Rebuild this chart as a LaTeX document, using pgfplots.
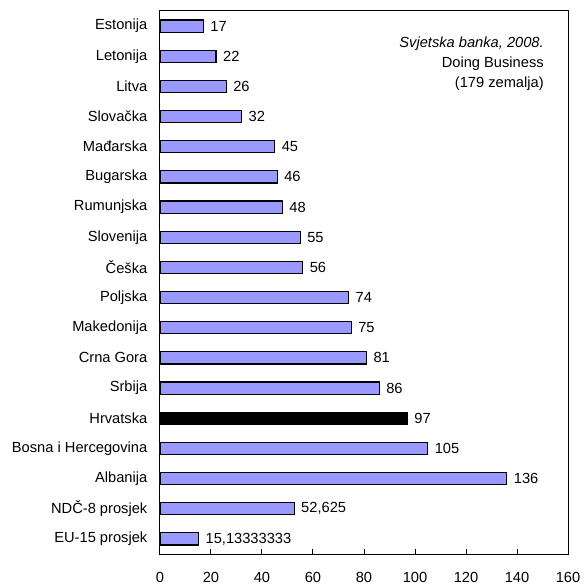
\documentclass[border=0pt]{standalone}
\usepackage{fontspec}
\setmainfont{Liberation Sans}
\usepackage{pgfplots}
\usepackage{pgfplotstable}
\pgfplotsset{compat=1.18}
\definecolor{barblue}{HTML}{9999FF}

% position (top = 0), value, printed label
\pgfplotstableread{
pos val lab
0 17 17
1 22 22
2 26 26
3 32 32
4 45 45
5 46 46
6 48 48
7 55 55
8 56 56
9 74 74
10 75 75
11 81 81
12 86 86
14 105 105
15 136 136
16 52.625 52,625
17 15.13333333 15,13333333
}\ranks

\pgfplotstableread{
pos val lab
13 97 97
}\croatia

\begin{document}
\begin{tikzpicture}
\path[use as bounding box] (-120pt,-23.25pt) rectangle (317.25pt,415.5pt);
\begin{axis}[
  scale only axis,
  width=306pt, height=407.25pt,
  xbar, bar shift=0pt, bar width=0.4,
  xmin=0, xmax=160, xtick={0,20,...,160},
  ymin=-0.5, ymax=17.5, y dir=reverse,
  ytick={0,...,17},
  yticklabels={Estonija,Letonija,Litva,Slovačka,Mađarska,Bugarska,Rumunjska,Slovenija,Češka,Poljska,Makedonija,Crna Gora,Srbija,Hrvatska,Bosna i Hercegovina,Albanija,NDČ-8 prosjek,EU-15 prosjek},
  tick align=inside, xtick pos=bottom,
  ytick style={draw=none},
  xtick style={black, line width=0.75pt},
  major tick length=3.75pt,
  axis line style={black, line width=0.75pt},
  font=\fontsize{11}{12}\selectfont,
  /pgf/number format/assume math mode=true,
  xticklabel style={yshift=-10.5pt},
  yticklabel style={xshift=-6pt},
  point meta=explicit symbolic,
  nodes near coords,
  nodes near coords style={anchor=west, xshift=1.5pt, black},
]
\addplot[draw=black, fill=barblue, line width=0.9pt]
  table[x=val, y=pos, meta=lab] {\ranks};
\addplot[draw=black, fill=black, line width=0.9pt]
  table[x=val, y=pos, meta=lab] {\croatia};
\node[anchor=north east, align=right, inner sep=0pt,
      font=\fontsize{11}{15}\selectfont]
  at (axis description cs:1,1) [xshift=-18pt, yshift=-19pt]
  {{\itshape Svjetska banka, 2008.}\\Doing Business\\(179 zemalja)};
\end{axis}
\end{tikzpicture}
\end{document}
